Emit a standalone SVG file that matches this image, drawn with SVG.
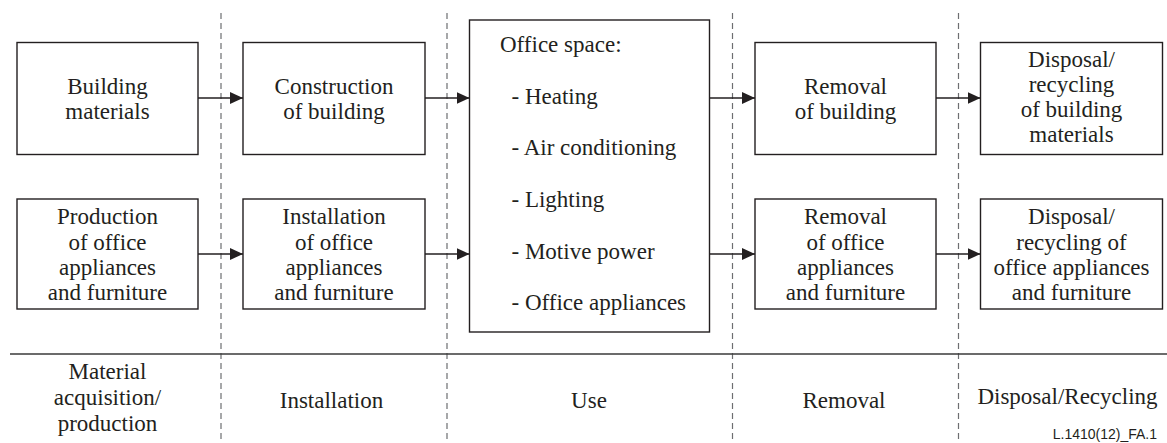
<svg xmlns="http://www.w3.org/2000/svg" width="1167" height="443" viewBox="0 0 1167 443">
<style>
.box{fill:#fff;stroke:#231f20;stroke-width:1.4}
.t{font-family:'Liberation Serif','Times New Roman',serif;font-size:23px;fill:#231f20;text-anchor:middle}
.tl{font-family:'Liberation Serif','Times New Roman',serif;font-size:23px;fill:#231f20}
.dash{stroke:#6d6e71;stroke-width:1.2;stroke-dasharray:6 4;fill:none}
.conn{stroke:#231f20;stroke-width:1.3;fill:none;marker-end:url(#ah)}
.sep{stroke:#3a3a3a;stroke-width:1.4}
.code{font-family:'Liberation Sans',Arial,sans-serif;font-size:14px;fill:#231f20;text-anchor:end}
</style>
<defs>
<marker id="ah" viewBox="0 0 13 12" refX="13" refY="6" markerWidth="13" markerHeight="12" markerUnits="userSpaceOnUse" orient="auto">
<path d="M0,0 L13,6 L0,12 Z" fill="#231f20"/>
</marker>
</defs>
<rect width="1167" height="443" fill="#fff"/>
<g id="phase-lines">
<line class="dash" x1="221" y1="13" x2="221" y2="443"/>
<line class="dash" x1="447" y1="13" x2="447" y2="443"/>
<line class="dash" x1="732.5" y1="13" x2="732.5" y2="443"/>
<line class="dash" x1="958.5" y1="13" x2="958.5" y2="443"/>
<line class="sep" x1="10" y1="354" x2="1167" y2="354"/>
</g>
<g id="connectors">
<line class="conn" x1="198" y1="98" x2="243" y2="98"/>
<line class="conn" x1="425" y1="98" x2="469.5" y2="98"/>
<line class="conn" x1="709.5" y1="98" x2="755" y2="98"/>
<line class="conn" x1="936" y1="98" x2="980.5" y2="98"/>
<line class="conn" x1="198" y1="254" x2="243" y2="254"/>
<line class="conn" x1="425" y1="254" x2="469.5" y2="254"/>
<line class="conn" x1="709.5" y1="254" x2="755" y2="254"/>
<line class="conn" x1="936" y1="254" x2="980.5" y2="254"/>
</g>
<g id="building-materials">
<rect class="box" x="17" y="42.5" width="181" height="112"/>
<text class="t" x="107.5" y="94">Building</text>
<text class="t" x="107.5" y="119">materials</text>
</g>
<g id="construction">
<rect class="box" x="243" y="42.5" width="182" height="112"/>
<text class="t" x="334" y="94">Construction</text>
<text class="t" x="334" y="119">of building</text>
</g>
<g id="office-space">
<rect class="box" x="469.5" y="20" width="240" height="312"/>
<text class="tl" x="500" y="52">Office space:</text>
<text class="tl" x="511.5" y="103.5">- Heating</text>
<text class="tl" x="511.5" y="155">- Air conditioning</text>
<text class="tl" x="511.5" y="207">- Lighting</text>
<text class="tl" x="511.5" y="258.5">- Motive power</text>
<text class="tl" x="511.5" y="310">- Office appliances</text>
</g>
<g id="removal-building">
<rect class="box" x="755" y="42.5" width="181" height="112"/>
<text class="t" x="845.5" y="94">Removal</text>
<text class="t" x="845.5" y="119">of building</text>
</g>
<g id="disposal-building">
<rect class="box" x="980.5" y="42.5" width="182" height="112"/>
<text class="t" x="1071.5" y="67">Disposal/</text>
<text class="t" x="1071.5" y="92">recycling</text>
<text class="t" x="1071.5" y="117">of building</text>
<text class="t" x="1071.5" y="142">materials</text>
</g>
<g id="production-appliances">
<rect class="box" x="17" y="199" width="181" height="110"/>
<text class="t" x="107.5" y="224">Production</text>
<text class="t" x="107.5" y="249.5">of office</text>
<text class="t" x="107.5" y="275">appliances</text>
<text class="t" x="107.5" y="300">and furniture</text>
</g>
<g id="installation-appliances">
<rect class="box" x="243" y="199" width="182" height="110"/>
<text class="t" x="334" y="224">Installation</text>
<text class="t" x="334" y="249.5">of office</text>
<text class="t" x="334" y="275">appliances</text>
<text class="t" x="334" y="300">and furniture</text>
</g>
<g id="removal-appliances">
<rect class="box" x="755" y="199" width="181" height="110"/>
<text class="t" x="845.5" y="224">Removal</text>
<text class="t" x="845.5" y="249.5">of office</text>
<text class="t" x="845.5" y="275">appliances</text>
<text class="t" x="845.5" y="300">and furniture</text>
</g>
<g id="disposal-appliances">
<rect class="box" x="980.5" y="199" width="182" height="110"/>
<text class="t" x="1071.5" y="224">Disposal/</text>
<text class="t" x="1071.5" y="249.5">recycling of</text>
<text class="t" x="1071.5" y="275">office appliances</text>
<text class="t" x="1071.5" y="300">and furniture</text>
</g>
<g id="phase-labels">
<text class="t" x="107.5" y="378.5">Material</text>
<text class="t" x="107.5" y="404.5">acquisition/</text>
<text class="t" x="107.5" y="430.5">production</text>
<text class="t" x="331.5" y="407.5">Installation</text>
<text class="t" x="589" y="407.5">Use</text>
<text class="t" x="844" y="407.5">Removal</text>
<text class="t" x="1067.5" y="403.5">Disposal/Recycling</text>
<text class="code" x="1157" y="439">L.1410(12)_FA.1</text>
</g>
</svg>
